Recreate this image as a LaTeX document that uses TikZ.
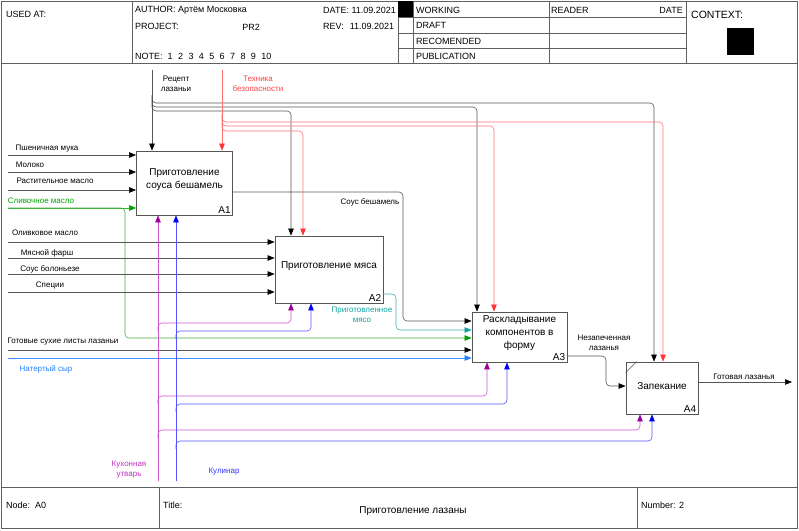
\documentclass[tikz,border=0pt]{standalone}
\usepackage{fontspec}
\setmainfont{Liberation Sans}
\usetikzlibrary{arrows.meta,calc}

% line and tip colours of the connectors
\definecolor{lnblk}{HTML}{555555}
\definecolor{lnred}{HTML}{FF7070}
\definecolor{tpred}{HTML}{FF3333}
\definecolor{txred}{HTML}{FF4040}
\definecolor{lngrn}{HTML}{40B040}
\definecolor{tpgrn}{HTML}{00A000}
\definecolor{lntea}{HTML}{40AAAA}
\definecolor{tptea}{HTML}{10A0A0}
\definecolor{lnsky}{HTML}{4090FF}
\definecolor{tpsky}{HTML}{2080FF}
\definecolor{lnpur}{HTML}{CC55CC}
\definecolor{tppur}{HTML}{990099}
\definecolor{txpur}{HTML}{BB33BB}
\definecolor{lnblu}{HTML}{5555FF}
\definecolor{tpblu}{HTML}{0000EE}
\definecolor{txblu}{HTML}{3333FF}
\definecolor{frm}{HTML}{606060}

\begin{document}
\begin{tikzpicture}[x=1pt,y=-1pt,
  font=\fontsize{8}{10}\selectfont,
  frame/.style={draw=frm,line width=0.8pt},
  hdr/.style={anchor=west,inner sep=0pt,font=\fontsize{9}{11}\selectfont},
  ftr/.style={anchor=west,inner sep=0pt,font=\fontsize{9}{11}\selectfont},
  lbl/.style={inner sep=0pt,align=center},
  fbox/.style={draw=lnblk,line width=0.8pt,fill=white,inner sep=0pt},
  ftext/.style={inner sep=0pt,align=center,font=\fontsize{10}{13}\selectfont},
  fid/.style={anchor=south east,inner sep=2pt,font=\fontsize{10}{12}\selectfont},
  conn/.style={line width=0.6pt,rounded corners=4pt},
  cblk/.style={conn,draw=lnblk,-{Triangle[length=7pt,width=5.5pt,color=black]}},
  cred/.style={conn,draw=lnred,-{Triangle[length=7pt,width=5.5pt,color=tpred]}},
  cgrn/.style={conn,draw=lngrn,-{Triangle[length=7pt,width=5.5pt,color=tpgrn]}},
  ctea/.style={conn,draw=lntea,-{Triangle[length=7pt,width=5.5pt,color=tptea]}},
  csky/.style={conn,draw=lnsky,-{Triangle[length=7pt,width=5.5pt,color=tpsky]}},
  cpur/.style={conn,draw=lnpur,-{Triangle[length=7pt,width=5.5pt,color=tppur]}},
  cblu/.style={conn,draw=lnblu,-{Triangle[length=7pt,width=5.5pt,color=tpblu]}},
]
\useasboundingbox (0,0) rectangle (799,530);

% ---------- sheet frame ----------
\draw[frame] (1,1) rectangle (797,528);
\draw[frame] (1,63) -- (797,63);
\draw[frame] (1,487) -- (797,487);
\draw[frame] (132,1) -- (132,63);
\draw[frame] (398,1) -- (398,63);
\draw[frame] (413,1) -- (413,63);
\draw[frame] (549,1) -- (549,63);
\draw[frame] (686,1) -- (686,63);
\draw[frame] (398,17) -- (686,17);
\draw[frame] (398,33) -- (686,33);
\draw[frame] (398,48) -- (686,48);
\fill (398,1) rectangle (413,17);
\fill (727,28) rectangle (754,55);
\draw[frame] (159,487) -- (159,528);
\draw[frame] (637,487) -- (637,528);

% ---------- header ----------
\node[hdr] (usedat) at (6,14) {USED AT:};
\node[hdr] (author) at (135,10) {AUTHOR: Артём Московка};
\node[hdr] (project) at (135,26) {PROJECT:};
\node[hdr,anchor=center] (pr) at (251,27) {PR2};
\node[hdr] (date) at (323,10) {DATE: 11.09.2021};
\node[hdr] (rev) at (323,26) {REV:\hspace{6pt}11.09.2021};
\node[hdr] (note) at (135,56) {NOTE:\hspace{5pt}1\hspace{5.4pt}2\hspace{5.4pt}3\hspace{5.4pt}4\hspace{5.4pt}5\hspace{5.4pt}6\hspace{5.4pt}7\hspace{5.4pt}8\hspace{5.4pt}9\hspace{5.4pt}10};
\node[hdr] (working) at (416,10) {WORKING};
\node[hdr] (draft) at (416,25) {DRAFT};
\node[hdr] (recom) at (416,41) {RECOMENDED};
\node[hdr] (publ) at (416,56) {PUBLICATION};
\node[hdr] (reader) at (551,10) {READER};
\node[hdr,anchor=east] (rdate) at (683,10) {DATE};
\node[hdr,font=\fontsize{10.5}{12}\selectfont] (context) at (691,15) {CONTEXT:};

% ---------- footer ----------
\node[ftr] (nodeid) at (6,505) {Node:\hspace{5pt}A0};
\node[ftr] (titlek) at (163,505) {Title:};
\node[ftr,anchor=center,font=\fontsize{10}{12}\selectfont] (title) at (413,511) {Приготовление лазаны};
\node[ftr] (number) at (641,505) {Number: 2};

% ---------- function boxes ----------
\node[fbox,minimum width=96pt,minimum height=64pt] (A1) at (184.5,183) {};
\node[fbox,minimum width=108pt,minimum height=67pt] (A2) at (329,269.5) {};
\node[fbox,minimum width=95pt,minimum height=50pt] (A3) at (519.5,337) {};
\node[fbox,minimum width=72pt,minimum height=52pt] (A4) at (662,388) {};
\draw[draw=lnblk,line width=0.6pt] ([yshift=-11pt]A4.north west) -- ([xshift=11pt]A4.north west);

\node[ftext] (t1) at (184.5,180) {Приготовление\\соуса бешамель};
\node[ftext] (t2) at (329,266) {Приготовление мяса};
\node[ftext] (t3) at (519.5,333.5) {Раскладывание\\компонентов в\\форму};
\node[ftext] (t4) at (662,386) {Запекание};
\node[fid] (n1) at (A1.south east) {A1};
\node[fid] (n2) at (A2.south east) {A2};
\node[fid] (n3) at (A3.south east) {A3};
\node[fid] (n4) at (A4.south east) {A4};

% ---------- inputs of A1 ----------
\coordinate (i1) at (8,155);
\coordinate (i2) at (8,172);
\coordinate (i3) at (8,190);
\coordinate (i4) at (8,208);
\draw[cblk] (i1) -- (i1 -| A1.west);
\draw[cblk] (i2) -- (i2 -| A1.west);
\draw[cblk] (i3) -- (i3 -| A1.west);
\draw[cgrn] (i4) -- (i4 -| A1.west);
\coordinate (g1) at (125,338);
\draw[cgrn] (i4) -| (g1) -- (g1 -| A3.west);
\node[lbl] (li1) at (47,149) {Пшеничная мука};
\node[lbl] (li2) at (30,165) {Молоко};
\node[lbl] (li3) at (55,181) {Растительное масло};
\node[lbl,text=tpgrn] (li4) at (41,201) {Сливочное масло};

% ---------- inputs of A2 ----------
\coordinate (j1) at (8,242);
\coordinate (j2) at (8,258);
\coordinate (j3) at (8,274);
\coordinate (j4) at (8,292);
\draw[cblk] (j1) -- (j1 -| A2.west);
\draw[cblk] (j2) -- (j2 -| A2.west);
\draw[cblk] (j3) -- (j3 -| A2.west);
\draw[cblk] (j4) -- (j4 -| A2.west);
\node[lbl] (lj1) at (45,233) {Оливковое масло};
\node[lbl] (lj2) at (47,253) {Мясной фарш};
\node[lbl] (lj3) at (50,269) {Соус болоньезе};
\node[lbl] (lj4) at (50,285) {Специи};

% ---------- inputs of A3 ----------
\coordinate (k1) at (8,350);
\coordinate (k2) at (8,358);
\draw[cblk] (k1) -- (k1 -| A3.west);
\draw[csky] (k2) -- (k2 -| A3.west);
\node[lbl] (lk1) at (63,342) {Готовые сухие листы лазаньи};
\node[lbl,text=tpsky] (lk2) at (46,369) {Натертый сыр};

% ---------- outputs ----------
\coordinate (sb) at (403,321);
\draw[cblk] ([yshift=-9pt]A1.east) -| (sb) -- (sb -| A3.west);
\node[lbl] (lsb) at (370,202) {Соус бешамель};
\coordinate (pm) at (396,330);
\draw[ctea] ([yshift=-24.5pt]A2.east) -| (pm) -- (pm -| A3.west);
\node[lbl,text=tptea] (lpm) at (362,315) {Приготовленное\\мясо};
\coordinate (nz) at (606,386);
\draw[cblk] ([yshift=-19pt]A3.east) -| (nz) -- (nz -| A4.west);
\node[lbl] (lnz) at (604,343) {Незапеченная\\лазанья};
\coordinate (out) at (792,382);
\draw[cblk] ([yshift=6pt]A4.east) -- (out);
\node[lbl] (lout) at (744,377) {Готовая лазанья};

% ---------- controls ----------
\coordinate (rc) at (152,70);
\draw[cblk] (rc) -- (rc |- A1.north);
\coordinate (rc4) at (654,103);
\coordinate (rc3) at (477,107);
\coordinate (rc2) at (291,111);
\draw[cblk] ($(rc |- rc4)+(0,-8)$) |- (rc4) -- (rc4 |- A4.north);
\draw[cblk] ($(rc |- rc3)+(0,-8)$) |- (rc3) -- (rc3 |- A3.north);
\draw[cblk] ($(rc |- rc2)+(0,-8)$) |- (rc2) -- (rc2 |- A2.north);
\node[lbl] (lrc) at (176,84) {Рецепт\\лазаньи};

\coordinate (tb) at (222,70);
\draw[cred] (tb) -- (tb |- A1.north);
\coordinate (tb4) at (663,122);
\coordinate (tb3) at (494,126);
\coordinate (tb2) at (303,131);
\draw[cred] ($(tb |- tb4)+(0,-8)$) |- (tb4) -- (tb4 |- A4.north);
\draw[cred] ($(tb |- tb3)+(0,-8)$) |- (tb3) -- (tb3 |- A3.north);
\draw[cred] ($(tb |- tb2)+(0,-8)$) |- (tb2) -- (tb2 |- A2.north);
\node[lbl,text=txred] (ltb) at (258,84) {Техника\\безопасности};

% ---------- mechanisms ----------
\coordinate (ku) at (158,481);
\draw[cpur] (ku) -- (ku |- A1.south);
\coordinate (ku2) at (291,323);
\coordinate (ku3) at (487,396);
\coordinate (ku4) at (640,430);
\draw[cpur] ($(ku |- ku2)+(0,8)$) |- (ku2) -- (ku2 |- A2.south);
\draw[cpur] ($(ku |- ku3)+(0,8)$) |- (ku3) -- (ku3 |- A3.south);
\draw[cpur] ($(ku |- ku4)+(0,8)$) |- (ku4) -- (ku4 |- A4.south);
\node[lbl,text=txpur] (lku) at (129,470) {Кухонная\\утварь};

\coordinate (kl) at (176,481);
\draw[cblu] (kl) -- (kl |- A1.south);
\coordinate (kl2) at (311,331);
\coordinate (kl3) at (507,404);
\coordinate (kl4) at (652,441);
\draw[cblu] ($(kl |- kl2)+(0,8)$) |- (kl2) -- (kl2 |- A2.south);
\draw[cblu] ($(kl |- kl3)+(0,8)$) |- (kl3) -- (kl3 |- A3.south);
\draw[cblu] ($(kl |- kl4)+(0,8)$) |- (kl4) -- (kl4 |- A4.south);
\node[lbl,text=txblu] (lkl) at (224,472) {Кулинар};
\end{tikzpicture}
\end{document}
